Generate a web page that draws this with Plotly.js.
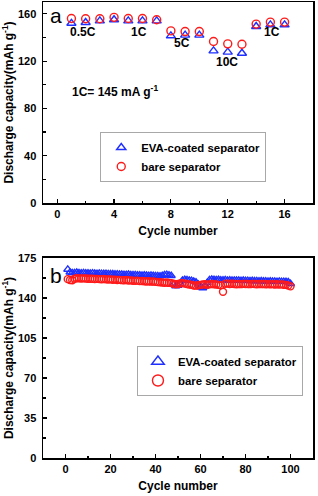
<!DOCTYPE html>
<html>
<head>
<meta charset="utf-8">
<script src="https://cdn.plot.ly/plotly-3.0.1.min.js"></script>
<style>
html,body{margin:0;padding:0;background:#fff;}
#chart{width:318px;height:496px;}
</style>
</head>
<body>
<div id="chart"></div>
<script>
// Panel a: rate capability
const rateCycles = [1,2,3,4,5,6,7,8,9,10,11,12,13,14,15,16];
const rateEVA  = [152,152.7,154,155,154,154,154,141.4,142,142,128.7,127.6,126.7,149.3,150.7,150.7];
const rateBare = [156,155.8,155.8,157,156,156,155,145.6,145,145,136.6,134.6,134.3,151.3,153,153];
const rateLabels = ["0.5C","1C","5C","10C","1C"];
const rateLabelX = [1.8,5.75,8.75,11.95,15.1];
const rateLabelY = [144.8,144.8,135.5,119.5,144.5];

// Panel b: cycling performance
const cycles = Array.from({length:100},(_,i)=>i+1);
const cycEVA = [
 165.0,162.5,162.0,162.0,162.3,162.0,161.8,162.0,161.8,161.7,
 161.6,161.8,161.5,161.4,161.6,161.3,161.2,161.4,161.1,161.0,
 161.0,160.8,160.9,160.6,160.7,160.5,160.4,160.6,160.3,160.2,
 160.2,160.0,160.1,159.8,159.9,159.7,159.6,159.8,159.5,159.4,
 159.3,159.1,159.6,160.2,160.4,160.0,159.5,152.0,150.5,151.0,
 152.5,155.5,156.0,155.8,155.4,155.2,154.6,153.8,152.0,149.5,
 148.8,150.5,153.5,155.8,156.2,156.0,155.8,156.0,155.7,155.6,
 155.8,155.5,155.6,155.4,155.5,155.3,155.4,155.2,155.3,155.1,
 155.2,155.0,155.1,154.9,155.0,154.8,154.9,154.7,154.8,154.6,
 154.7,154.5,154.6,154.4,154.5,154.3,154.4,154.2,154.0,152.5];
const cycBare = [
 156.5,155.8,155.5,156.8,157.3,157.2,157.0,157.2,157.0,156.9,
 156.8,156.9,156.6,156.7,156.5,156.4,156.6,156.3,156.2,156.3,
 156.0,156.1,155.8,155.9,155.6,155.5,155.7,155.3,155.4,155.1,
 155.0,155.2,154.8,154.9,154.6,154.5,154.7,154.3,154.4,154.1,
 154.0,153.8,153.6,153.4,153.5,153.2,153.0,152.5,152.0,152.3,
 152.8,153.0,152.6,152.2,151.8,151.5,151.0,150.8,151.2,151.5,
 151.8,152.0,151.6,151.9,152.2,152.0,151.8,151.5,151.2,145.5,
 152.4,152.6,152.3,152.5,152.2,152.0,152.3,152.1,152.4,152.2,
 152.3,152.1,152.4,152.2,152.0,152.3,152.1,152.2,152.0,152.1,
 151.9,152.1,151.8,152.0,151.7,151.9,151.6,151.5,151.0,150.2];

const seriesNames = ["EVA-coated separator","bare separator"];
const BLUE = "#1f2fff", RED = "#ff1a1a";
const FONT = "Liberation Sans, Arial, sans-serif";

function tri(size){ return {symbol:"triangle-up-open", size:size, color:BLUE, line:{width:1.4,color:BLUE}}; }
function cir(size){ return {symbol:"circle-open", size:size, color:RED, line:{width:1.4,color:RED}}; }

const traces = [
 {x:rateCycles, y:rateEVA, xaxis:"x", yaxis:"y", mode:"markers", name:seriesNames[0], marker:tri(8), legend:"legend"},
 {x:rateCycles, y:rateBare, xaxis:"x", yaxis:"y", mode:"markers", name:seriesNames[1], marker:cir(8), legend:"legend"},
 {x:cycles, y:cycEVA, xaxis:"x2", yaxis:"y2", mode:"markers", name:seriesNames[0], marker:tri(7), showlegend:false},
 {x:cycles, y:cycBare, xaxis:"x2", yaxis:"y2", mode:"markers", name:seriesNames[1], marker:cir(7), showlegend:false},
 // legend entries for panel b (larger symbols, no data points)
 {x:[null], y:[null], xaxis:"x2", yaxis:"y2", mode:"markers", name:seriesNames[0], marker:tri(11), legend:"legend2"},
 {x:[null], y:[null], xaxis:"x2", yaxis:"y2", mode:"markers", name:seriesNames[1], marker:cir(11), legend:"legend2"}
];

const tickFont = {family:FONT, size:11, color:"#000", weight:"bold"};
const titleFont = {family:FONT, size:12, color:"#000", weight:"bold"};
function xax(range, dtick, mdtick, anchor){
  return {anchor:anchor, range:range, dtick:dtick, tick0:0, ticks:"inside", ticklen:4, tickwidth:1.2, tickcolor:"#000",
    minor:{dtick:mdtick, tick0:0, ticks:"inside", ticklen:2.5, tickwidth:1.2, tickcolor:"#000", showgrid:false},
    showline:true, mirror:true, linewidth:1.5, linecolor:"#000", showgrid:false, zeroline:false,
    tickfont:tickFont, automargin:false,
    title:{text:"Cycle number", font:titleFont, standoff:8}};
}
function yax(range, dtick, mdtick, domain, anchor){
  return {anchor:anchor, domain:domain, range:range, dtick:dtick, tick0:0, ticks:"inside", ticklen:4, tickwidth:1.2, tickcolor:"#000",
    minor:{dtick:mdtick, tick0:0, ticks:"inside", ticklen:2.5, tickwidth:1.2, tickcolor:"#000", showgrid:false},
    showline:true, mirror:true, linewidth:1.5, linecolor:"#000", showgrid:false, zeroline:false,
    tickfont:tickFont, automargin:false, ticklabelstandoff:3,
    title:{text:"Discharge capacity(mAh g<sup>-1</sup>)", font:titleFont, standoff:5}};
}

const annotations = [];
rateLabels.forEach((t,i)=>annotations.push({x:rateLabelX[i], y:rateLabelY[i], xref:"x", yref:"y", text:t, showarrow:false,
  font:{family:FONT, size:12, color:"#000", weight:"bold"}}));
annotations.push({x:4.07, y:95, xref:"x", yref:"y", text:"1C= 145 mA g<sup>-1</sup>", showarrow:false,
  font:{family:FONT, size:12, color:"#000", weight:"bold"}});
annotations.push({x:0.048, y:1.001, xref:"paper", yref:"paper", text:"a", showarrow:false, xanchor:"center", yanchor:"top",
  font:{family:FONT, size:21, color:"#000"}});
annotations.push({x:0.048, y:0.43, xref:"paper", yref:"paper", text:"b", showarrow:false, xanchor:"center", yanchor:"top",
  font:{family:FONT, size:21, color:"#000"}});

const legendStyle = {font:{family:FONT, size:11.4, color:"#000", weight:"bold"}, bordercolor:"#a8a8a8", borderwidth:1,
  bgcolor:"#fff", xanchor:"left", yanchor:"top", itemwidth:30};

const layout = {
  width:318, height:496, paper_bgcolor:"#fff", plot_bgcolor:"#fff",
  margin:{l:43, r:5, t:2, b:38},
  showlegend:true,
  xaxis: xax([-1,18], 4, 2, "y"),
  yaxis: yax([0,170], 40, 20, [0.5592,1], "x"),
  xaxis2: xax([-10,110], 20, 10, "y2"),
  yaxis2: yax([0,175], 35, 17.5, [0,0.4386], "x2"),
  legend: Object.assign({x:0.212, y:0.715}, legendStyle),
  legend2: Object.assign({x:0.348, y:0.2456}, legendStyle),
  annotations: annotations
};

Plotly.newPlot("chart", traces, layout, {staticPlot:true, displayModeBar:false});
</script>
</body>
</html>
